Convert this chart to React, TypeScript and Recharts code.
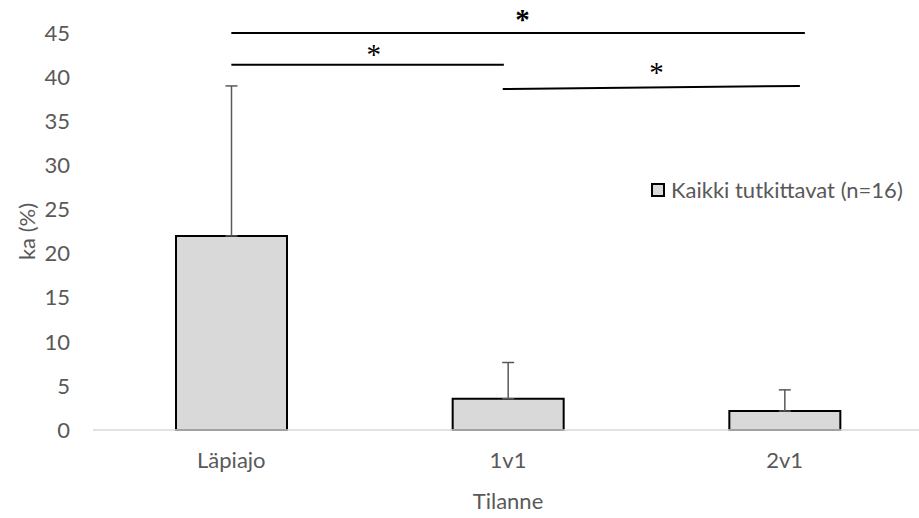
import React from 'react';
import { BarChart, Bar, XAxis, YAxis, ErrorBar, Legend, ReferenceLine, ReferenceDot } from 'recharts';

const categories = ['Läpiajo', '1v1', '2v1'];
const means = [22.0, 3.55, 2.15];
const sdUp = [17.0, 4.1, 2.4];
const yTicks = [0, 5, 10, 15, 20, 25, 30, 35, 40, 45];

// significance brackets (x in category index units, y in %)
const sigLines = [
  { x1: 0, y1: 45, x2: 2.073, y2: 45 },
  { x1: 0, y1: 41.4, x2: 0.985, y2: 41.4 },
  { x1: 0.981, y1: 38.65, x2: 2.055, y2: 39.0 },
];
const stars = [
  { x: 1.052, y: 47.0, bold: true },
  { x: 0.515, y: 43.0, bold: false },
  { x: 1.537, y: 40.9, bold: false },
];

const data = categories.map((c, i) => ({ pos: i, name: c, ka: means[i], err: [0, sdUp[i]] }));

const FONT = 'Lato, "Open Sans", sans-serif';
const GREY = '#595959';

const LegendBox = () => (
  <div style={{ display: 'flex', alignItems: 'center', fontFamily: FONT, fontSize: 22, color: GREY, whiteSpace: 'nowrap' }}>
    <span style={{ width: 10, height: 10, background: '#d9d9d9', border: '2px solid #000', display: 'inline-block', marginRight: 6 }} />
    <span>Kaikki tutkittavat (n=16)</span>
  </div>
);

export default function App() {
  return (
    <div style={{ position: 'absolute', left: 0, top: 0, width: 919, height: 518, overflow: 'hidden', background: '#fff' }}>
      <BarChart width={930} height={518} data={data} margin={{ top: 33, right: 7, left: 0, bottom: 0 }}>
        <XAxis
          type="number"
          dataKey="pos"
          domain={[-0.5, 2.5]}
          ticks={[0, 1, 2]}
          tickFormatter={(v: number) => categories[v]}
          height={88}
          tickLine={false}
          tickSize={0}
          tickMargin={22}
          axisLine={{ stroke: '#d9d9d9', strokeWidth: 1.5 }}
          tick={{ fill: GREY, fontSize: 22, fontFamily: FONT }}
          label={{ value: 'Tilanne', position: 'center', dy: 27, fill: GREY, fontSize: 22, fontFamily: FONT }}
        />
        <YAxis
          domain={[0, 45]}
          ticks={yTicks}
          width={93}
          axisLine={false}
          tickLine={false}
          tickSize={0}
          tickMargin={23}
          tick={{ fill: GREY, fontSize: 22, fontFamily: FONT }}
          label={{ value: 'ka (%)', angle: -90, position: 'center', dx: -19, fill: GREY, fontSize: 22, fontFamily: FONT }}
        />
        <Legend
          layout="horizontal"
          verticalAlign="middle"
          align="center"
          wrapperStyle={{ position: 'absolute', top: 176, left: 651, width: 'auto' }}
          content={() => <LegendBox />}
        />
        <Bar dataKey="ka" name="Kaikki tutkittavat (n=16)" barSize={111} fill="#d9d9d9" stroke="#000" strokeWidth={2} isAnimationActive={false}>
          <ErrorBar dataKey="err" direction="y" width={6} stroke={GREY} strokeWidth={1.5} isAnimationActive={false} />
        </Bar>
        {sigLines.map((l, i) => (
          <ReferenceLine
            key={'l' + i}
            segment={[{ x: l.x1, y: l.y1 }, { x: l.x2, y: l.y2 }]}
            stroke="#000"
            strokeWidth={2}
            ifOverflow="visible"
          />
        ))}
        {stars.map((s, i) => (
          <ReferenceDot
            key={'s' + i}
            x={s.x}
            y={s.y}
            r={0}
            stroke="none"
            ifOverflow="visible"
            label={{ value: '*', position: 'center', dy: 3, fill: '#000', fontSize: 29, fontWeight: s.bold ? 'bold' : 'normal', fontFamily: '"Liberation Serif", serif' }}
          />
        ))}
      </BarChart>
    </div>
  );
}
